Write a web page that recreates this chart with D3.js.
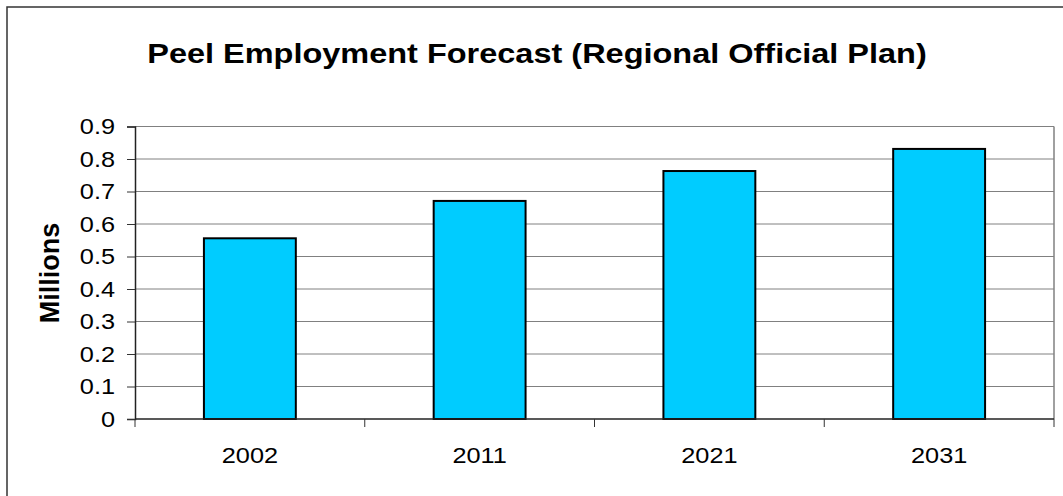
<!DOCTYPE html>
<html>
<head>
<meta charset="utf-8">
<script src="https://cdn.jsdelivr.net/npm/d3@7"></script>
<style>
  body { margin: 0; background: #fff; }
  text { font-family: Arial, "Liberation Sans", sans-serif; fill: #000; }
</style>
</head>
<body>
<svg id="chart" width="1063" height="496"></svg>
<script>
// data
const years = ['2002', '2011', '2021', '2031']
const employment = [0.556, 0.671, 0.763, 0.831]
const yTicks = [0, 0.1, 0.2, 0.3, 0.4, 0.5, 0.6, 0.7, 0.8, 0.9]
const title = 'Peel Employment Forecast (Regional Official Plan)'
const yTitle = 'Millions'

// the original picture is a little wider than tall, text looks stretched
const sx = 1.15
function stretch(sel, k) {
  sel.each(function() {
    const t = d3.select(this)
    const x0 = +t.attr('x') || 0
    t.attr('x', x0 / k).attr('transform', `scale(${k},1)`)
  })
}

const svg = d3.select('#chart')
const margin = {left: 135, right: 9, top: 126.5, bottom: 77}
const width = 1063 - margin.left - margin.right,
      height = 496 - margin.top - margin.bottom

// outer chart border
svg.append('rect')
  .attr('x', 7).attr('y', 7)
  .attr('width', 1063).attr('height', 496)
  .attr('fill', 'none').attr('stroke', '#333').attr('stroke-width', 1.5)

svg.append('g').attr('transform', 'translate(537,63)')
  .append('text')
  .attr('text-anchor', 'middle')
  .style('font-size', '28px').style('font-weight', 'bold')
  .text(title)
  .call(stretch, 1.16)

const g = svg.append('g').attr('transform', `translate(${margin.left},${margin.top})`)

const x = d3.scaleBand().domain(years).range([0, width]).paddingInner(0.6).paddingOuter(0.3)
const y = d3.scaleLinear().domain([0, 0.9]).range([height, 0])

// gridlines
g.selectAll('.grid').data(yTicks.slice(1)).enter().append('line')
  .attr('class', 'grid')
  .attr('x1', 0).attr('x2', width)
  .attr('y1', d => y(d)).attr('y2', d => y(d))
  .attr('stroke', '#808080').attr('stroke-width', 1)
// right border of plot
g.append('line')
  .attr('x1', width).attr('x2', width).attr('y1', 0).attr('y2', height)
  .attr('stroke', '#808080').attr('stroke-width', 1.5)

g.selectAll('.bar').data(employment).enter().append('rect')
  .attr('class', 'bar')
  .attr('x', (d, i) => x(years[i]))
  .attr('y', d => y(d))
  .attr('width', x.bandwidth())
  .attr('height', d => height - y(d))
  .attr('fill', '#00CCFF').attr('stroke', '#000').attr('stroke-width', 2)

const yAxis = g.append('g')
  .call(d3.axisLeft(y).tickValues(yTicks).tickSize(8).tickPadding(12).tickFormat(d => d === 0 ? '0' : d3.format('.1f')(d)))
yAxis.select('.domain').attr('stroke', '#222').attr('stroke-width', 1.5)
yAxis.selectAll('.tick line').attr('stroke', '#333')
yAxis.selectAll('text').style('font-size', '22px').attr('fill', '#000').call(stretch, sx)

// category axis, ticks sit between categories
const bounds = d3.range(years.length + 1).map(i => i * width / years.length)
const xAxis = g.append('g').attr('transform', `translate(0,${height})`)
xAxis.append('line').attr('x1', 0).attr('x2', width)
  .attr('stroke', '#222').attr('stroke-width', 1.5)
xAxis.selectAll('.xt').data(bounds).enter().append('line')
  .attr('x1', d => d).attr('x2', d => d).attr('y1', 0).attr('y2', 8)
  .attr('stroke', '#333')
xAxis.selectAll('.xl').data(years).enter().append('g')
  .attr('transform', d => `translate(${x(d) + x.bandwidth() / 2},44)`)
  .append('text')
  .attr('text-anchor', 'middle')
  .style('font-size', '22px')
  .text(d => d)
  .call(stretch, sx)

svg.append('g').attr('transform', 'translate(59,273)')
  .append('g').attr('transform', `scale(1.05,1)`)
  .append('text')
  .attr('transform', 'rotate(-90)')
  .attr('text-anchor', 'middle')
  .style('font-size', '27px').style('font-weight', 'bold')
  .text(yTitle)
</script>
</body>
</html>
